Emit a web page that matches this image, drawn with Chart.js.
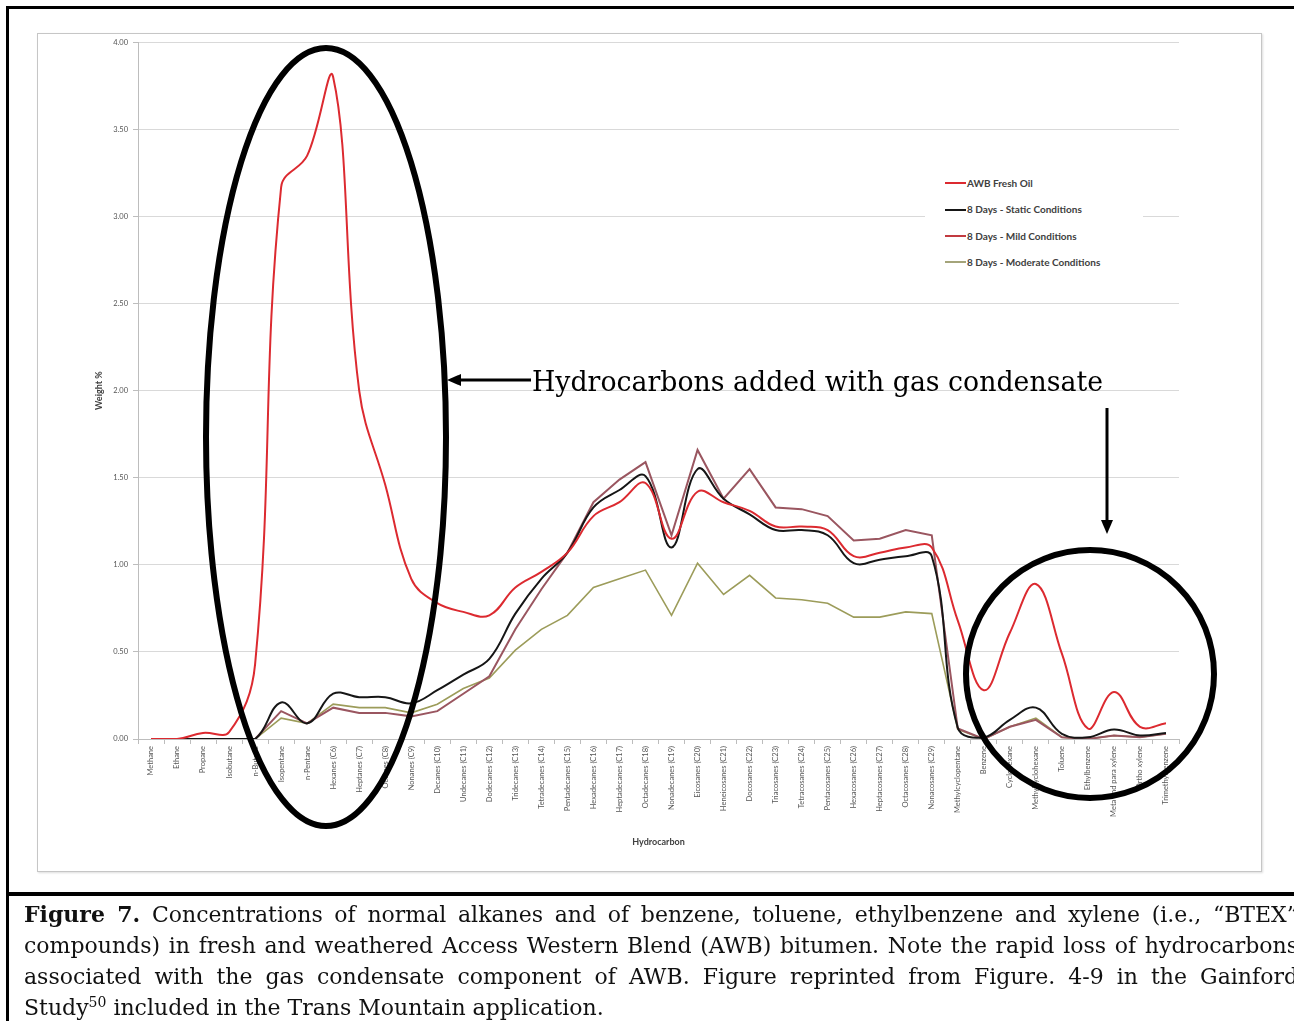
<!DOCTYPE html>
<html>
<head>
<meta charset="utf-8">
<script src="https://cdn.jsdelivr.net/npm/chart.js@4.4.1/dist/chart.umd.min.js"></script>
<style>
  body { margin: 0; background: #fff; width: 1294px; height: 1021px; overflow: hidden; position: relative; }
  #outer { position: absolute; left: 6px; top: 6px; width: 1400px; height: 1100px; border-left: 3px solid #000; border-top: 3px solid #000; }
  #sep { position: absolute; left: 6px; top: 892px; width: 1400px; height: 4px; background: #000; }
  #frame { position: absolute; left: 37px; top: 33px; width: 1225px; height: 839px; border: 1px solid #c6c6c6; box-sizing: border-box; box-shadow: 1px 1px 2px #ddd; }
  #chartBox { position: absolute; left: 37px; top: 33px; width: 1225px; height: 839px; }
  #legend { position: absolute; left: 925px; top: 168px; width: 218px; height: 107px; background: #fff; font-family: Lato, sans-serif; font-size: 10px; font-weight: bold; color: #404040; }
  #legend .item { position: absolute; left: 20px; height: 12px; line-height: 12px; white-space: nowrap; }
  #legend .sw { display: inline-block; width: 21px; height: 2px; vertical-align: middle; margin-right: 1px; position: relative; top: -1px; }
  #notes { position: absolute; left: 0; top: 0; width: 1294px; height: 1021px; pointer-events: none; }
  #caption { position: absolute; left: 24px; top: 899px; width: 1274px; font-family: "DejaVu Serif", serif; font-size: 22px; line-height: 31px; color: #111; }
  #caption .ln { text-align: justify; text-align-last: justify; height: 31px; }
  #caption .nw { white-space: nowrap; }
  #caption .last { text-align: left; text-align-last: left; }
  #caption sup { font-size: 14px; line-height: 0; }
</style>
</head>
<body>
<div id="outer"></div>
<div id="sep"></div>
<div id="frame"></div>
<div id="chartBox"><canvas id="chart"></canvas></div>
<div id="legend"></div>

<svg id="notes" xmlns="http://www.w3.org/2000/svg">
  <ellipse cx="326" cy="437" rx="120" ry="389" fill="none" stroke="#000" stroke-width="6"/>
  <ellipse cx="1090" cy="674" rx="124" ry="124" fill="none" stroke="#000" stroke-width="6"/>
  <line x1="531" y1="380" x2="458" y2="380" stroke="#000" stroke-width="3"/>
  <polygon points="447,380 461,374 461,386" fill="#000"/>
  <line x1="1107" y1="408" x2="1107" y2="522" stroke="#000" stroke-width="3"/>
  <polygon points="1107,534 1101,520 1113,520" fill="#000"/>
  <text x="532" y="391" font-family="DejaVu Serif, serif" font-size="27" fill="#000" textLength="571" lengthAdjust="spacingAndGlyphs">Hydrocarbons added with gas condensate</text>
</svg>

<div id="caption">
  <div class="ln nw"><b>Figure 7.</b> Concentrations of normal alkanes and of benzene, toluene, ethylbenzene and xylene (i.e., “BTEX”</div>
  <div class="ln nw">compounds) in fresh and weathered Access Western Blend (AWB) bitumen. Note the rapid loss of hydrocarbons</div>
  <div class="ln">associated with the gas condensate component of AWB. Figure reprinted from Figure. 4-9 in the Gainford</div>
  <div class="ln last">Study<sup>50</sup> included in the Trans Mountain application.</div>
</div>

<script>
// categories (x axis)
const categories = [
  "Methane", "Ethane", "Propane", "Isobutane", "n-Butane", "Isopentane", "n-Pentane",
  "Hexanes (C6)", "Heptanes (C7)", "Octanes (C8)", "Nonanes (C9)", "Decanes (C10)",
  "Undecanes (C11)", "Dodecanes (C12)", "Tridecanes (C13)", "Tetradecanes (C14)",
  "Pentadecanes (C15)", "Hexadecanes (C16)", "Heptadecanes (C17)", "Octadecanes (C18)",
  "Nonadecanes (C19)", "Eicosanes (C20)", "Heneicosanes (C21)", "Docosanes (C22)",
  "Triacosanes (C23)", "Tetracosanes (C24)", "Pentacosanes (C25)", "Hexacosanes (C26)",
  "Heptacosanes (C27)", "Octacosanes (C28)", "Nonacosanes (C29)", "Methylcyclopentane",
  "Benzene", "Cyclohexane", "Methylcyclohexane", "Toluene", "Ethylbenzene",
  "Meta and para xylene", "Ortho xylene", "Trimethylbenzene"
];

// weight % values
const freshOil = [0, 0, 0.035, 0.04, 0.43, 3.17, 3.35, 3.80, 2.00, 1.46,
  0.92, 0.78, 0.73, 0.71, 0.87, 0.96, 1.07, 1.28, 1.36, 1.47,
  1.15, 1.42, 1.36, 1.31, 1.22, 1.22, 1.20, 1.05, 1.07, 1.10,
  1.10, 0.68, 0.28, 0.61, 0.89, 0.49, 0.06, 0.27, 0.07, 0.09];

const staticCond = [0, 0, 0, 0, 0, 0.21, 0.09, 0.26, 0.24, 0.24,
  0.205, 0.28, 0.37, 0.46, 0.72, 0.92, 1.07, 1.33, 1.43, 1.51,
  1.10, 1.55, 1.38, 1.29, 1.20, 1.20, 1.17, 1.01, 1.03, 1.05,
  1.05, 0.065, 0.01, 0.11, 0.18, 0.03, 0.01, 0.055, 0.02, 0.035];

const mildCond = [0, 0, 0, 0, 0, 0.16, 0.09, 0.18, 0.15, 0.15,
  0.13, 0.16, 0.26, 0.36, 0.63, 0.86, 1.07, 1.36, 1.49, 1.59,
  1.17, 1.66, 1.38, 1.55, 1.33, 1.32, 1.28, 1.14, 1.15, 1.20,
  1.17, 0.06, 0, 0.07, 0.11, 0.01, 0, 0.02, 0.01, 0.03];

const moderateCond = [0, 0, 0, 0, 0, 0.12, 0.09, 0.20, 0.18, 0.18,
  0.15, 0.20, 0.29, 0.35, 0.51, 0.63, 0.71, 0.87, 0.92, 0.97,
  0.71, 1.01, 0.83, 0.94, 0.81, 0.80, 0.78, 0.70, 0.70, 0.73,
  0.72, 0.055, 0, 0.07, 0.12, 0.01, 0, 0.02, 0.01, 0.03];

const yTicks = [0, 0.5, 1, 1.5, 2, 2.5, 3, 3.5, 4];

const series = [
  { label: "AWB Fresh Oil", data: freshOil, color: "#dc2a30", key: "#dc2a30", width: 2, tension: 0.4 },
  { label: "8 Days - Static Conditions", data: staticCond, color: "#161616", key: "#161616", width: 2, tension: 0.4 },
  { label: "8 Days - Mild Conditions", data: mildCond, color: "#9a5660", key: "#c23a40", width: 2, tension: 0 },
  { label: "8 Days - Moderate Conditions", data: moderateCond, color: "#9c9c5a", key: "#a4a47a", width: 1.6, tension: 0 }
];

const tickFont = { family: "Lato, sans-serif", size: 7.5 };
const titleFont = { family: "Lato, sans-serif", size: 9, weight: "bold" };

new Chart(document.getElementById("chart"), {
  type: "line",
  data: {
    labels: categories,
    datasets: series.map(s => ({
      label: s.label,
      data: s.data,
      borderColor: s.color,
      backgroundColor: s.color,
      borderWidth: s.width,
      tension: s.tension,
      pointRadius: 0,
      fill: false
    }))
  },
  options: {
    responsive: true,
    maintainAspectRatio: false,
    animation: false,
    layout: { padding: { left: 0, top: 9, right: 83, bottom: 0 } },
    plugins: { legend: { display: false }, tooltip: { enabled: false } },
    scales: {
      x: {
        offset: true,
        afterFit: s => { s.height = 133; },
        grid: { display: true, drawOnChartArea: false, offset: true, tickLength: 5, color: "#bdbdbd" },
        border: { color: "#bdbdbd" },
        ticks: { autoSkip: false, minRotation: 90, maxRotation: 90, padding: 2, color: "#555", font: tickFont },
        title: { display: true, text: "Hydrocarbon", color: "#404040", font: titleFont, padding: { top: 0, bottom: 25 } }
      },
      y: {
        min: 0,
        max: 4,
        afterFit: s => { s.width = 101; },
        afterBuildTicks: s => { s.ticks = yTicks.map(v => ({ value: v })); },
        grid: { color: "#d9d9d9", tickLength: 5, tickColor: "#bdbdbd" },
        border: { color: "#bdbdbd" },
        ticks: { padding: 5, color: "#555", font: tickFont, callback: v => Number(v).toFixed(2) },
        title: { display: true, text: "Weight %", color: "#404040", font: titleFont, padding: { top: 57, bottom: 0 } }
      }
    }
  }
});

// legend drawn as html so it can sit inside the plot
const legend = document.getElementById("legend");
series.forEach((s, i) => {
  const row = document.createElement("div");
  row.className = "item";
  row.style.top = (9 + i * 26.3) + "px";
  row.innerHTML = `<span class="sw" style="background:${s.key}"></span>${s.label}`;
  legend.appendChild(row);
});
</script>
</body>
</html>
